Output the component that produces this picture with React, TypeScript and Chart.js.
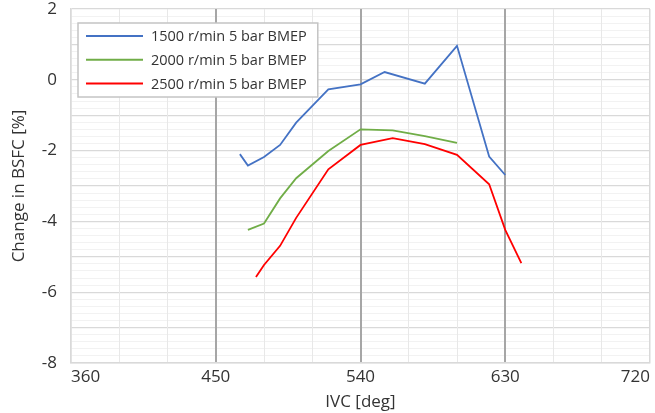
import React, { useEffect, useRef } from "react";
import { Chart, registerables } from "chart.js";

Chart.register(...registerables);

const seriesLabels = ["1500 r/min 5 bar BMEP", "2000 r/min 5 bar BMEP", "2500 r/min 5 bar BMEP"];
const seriesColors = ["#4472C4", "#70AD47", "#FF0000"];

const blueX = [465, 470, 480, 490, 500, 520, 540, 555, 580, 600, 620, 630];
const blueY = [-2.1, -2.42, -2.18, -1.84, -1.21, -0.27, -0.13, 0.22, -0.11, 0.96, -2.17, -2.69];
const greenX = [470, 480, 490, 500, 520, 540, 560, 580, 600];
const greenY = [-4.24, -4.06, -3.35, -2.78, -2.01, -1.4, -1.43, -1.59, -1.78];
const redX = [475, 480, 490, 500, 520, 540, 560, 580, 600, 620, 630, 640];
const redY = [-5.57, -5.23, -4.69, -3.9, -2.53, -1.84, -1.65, -1.82, -2.12, -2.95, -4.24, -5.18];

const xMin = 360;
const xMax = 720;
const xLabelStep = 90;
const xGridStep = 30;
const yMin = -8;
const yMax = 2;
const yGridStep = 0.2;
const yLabelStep = 2;

const xTitle = "IVC [deg]";
const yTitle = "Change in BSFC [%]";

const FONT = "'Open Sans', 'Noto Sans', sans-serif";
const TEXT = "#333333";

const toPts = (xs: number[], ys: number[]) => xs.map((x, i) => ({ x, y: ys[i] }));

const boxLegend = {
  id: "boxLegend",
  afterDatasetsDraw(chart: any) {
    const { ctx, chartArea } = chart;
    const ds = chart.data.datasets;
    ctx.save();
    ctx.font = `14.5px ${FONT}`;
    let maxW = 0;
    ds.forEach((d: any) => {
      maxW = Math.max(maxW, ctx.measureText(d.label).width);
    });
    const bx = chartArea.left + 7;
    const by = chartArea.top + 14;
    const lineLen = 57;
    const textOff = 73;
    const rowH = 23.7;
    const bw = textOff + maxW + 11;
    const bh = 74;
    ctx.fillStyle = "#ffffff";
    ctx.fillRect(bx, by, bw, bh);
    ctx.strokeStyle = "#c4c4c4";
    ctx.lineWidth = 1.5;
    ctx.strokeRect(bx, by, bw, bh);
    ds.forEach((d: any, i: number) => {
      const cy = by + 13 + i * rowH;
      ctx.strokeStyle = d.borderColor;
      ctx.lineWidth = 2;
      ctx.beginPath();
      ctx.moveTo(bx + 8, cy);
      ctx.lineTo(bx + 8 + lineLen, cy);
      ctx.stroke();
      ctx.fillStyle = TEXT;
      ctx.textBaseline = "middle";
      ctx.textAlign = "left";
      ctx.fillText(d.label, bx + textOff, cy + 1);
    });
    ctx.restore();
  },
};

export default function App() {
  const ref = useRef<HTMLCanvasElement | null>(null);
  useEffect(() => {
    if (!ref.current) return;
    const xs = [blueX, greenX, redX];
    const ys = [blueY, greenY, redY];
    const chart = new Chart(ref.current, {
      type: "line",
      data: {
        datasets: seriesLabels.map((label, i) => ({
          label,
          data: toPts(xs[i], ys[i]),
          borderColor: seriesColors[i],
          backgroundColor: seriesColors[i],
          borderWidth: 1.8,
          pointRadius: 0,
          tension: 0,
          fill: false,
        })),
      },
      options: {
        animation: false,
        responsive: false,
        maintainAspectRatio: false,
        layout: { padding: { top: 0, right: 5, left: 0, bottom: 0 } },
        plugins: {
          legend: { display: false },
          tooltip: { enabled: false },
        },
        scales: {
          x: {
            type: "linear",
            min: xMin,
            max: xMax,
            afterFit: (s: any) => {
              s.height = 50;
            },
            ticks: {
              stepSize: xGridStep,
              autoSkip: false,
              maxRotation: 0,
              maxTicksLimit: 100,
              align: "inner",
              padding: 4,
              color: TEXT,
              font: { family: FONT, size: 17 },
              callback: (v: any) => (Math.round(v) % xLabelStep === 0 ? String(Math.round(v)) : ""),
            },
            grid: {
              z: -1,
              drawTicks: false,
              color: (c: any) => {
                const v = Math.round(c.tick.value);
                if (v === xMin || v === xMax) return "#d9d9d9";
                return v % xLabelStep === 0 ? "#a6a6a6" : "#e8e8e8";
              },
              lineWidth: (c: any) => {
                const v = Math.round(c.tick.value);
                if (v === xMin || v === xMax) return 1.5;
                return v % xLabelStep === 0 ? 2 : 1;
              },
            },
            border: { color: "#d9d9d9", width: 1.5 },
            title: {
              display: true,
              text: xTitle,
              color: TEXT,
              font: { family: FONT, size: 17 },
              padding: { top: 0, bottom: 1 },
            },
          },
          y: {
            type: "linear",
            min: yMin,
            max: yMax,
            afterFit: (s: any) => {
              s.width = 71;
              s.paddingTop = 9;
              s.paddingBottom = 0;
            },
            ticks: {
              stepSize: yGridStep,
              autoSkip: false,
              maxTicksLimit: 100,
              padding: 14,
              color: TEXT,
              font: { family: FONT, size: 17 },
              callback: (v: any) => {
                const k = Math.round(v * 10);
                return k % (yLabelStep * 10) === 0 ? String(k / 10) : "";
              },
            },
            grid: {
              z: -2,
              drawTicks: false,
              color: (c: any) => {
                const k = Math.round(c.tick.value * 10);
                return k % 10 === 0 ? "#d9d9d9" : "#f2f2f2";
              },
              lineWidth: (c: any) => {
                const k = Math.round(c.tick.value * 10);
                return k % 10 === 0 ? 1.2 : 1;
              },
            },
            border: { color: "#d9d9d9", width: 1.5 },
            title: {
              display: true,
              text: yTitle,
              color: TEXT,
              font: { family: FONT, size: 17 },
              padding: { top: 9, bottom: 0 },
            },
          },
        },
      },
      plugins: [boxLegend],
    } as any);
    return () => chart.destroy();
  }, []);
  return (
    <div style={{ position: "absolute", left: 0, top: 0, width: 655, height: 413, background: "#fff" }}>
      <canvas ref={ref} width={655} height={413} style={{ width: 655, height: 413, display: "block" }} />
    </div>
  );
}
